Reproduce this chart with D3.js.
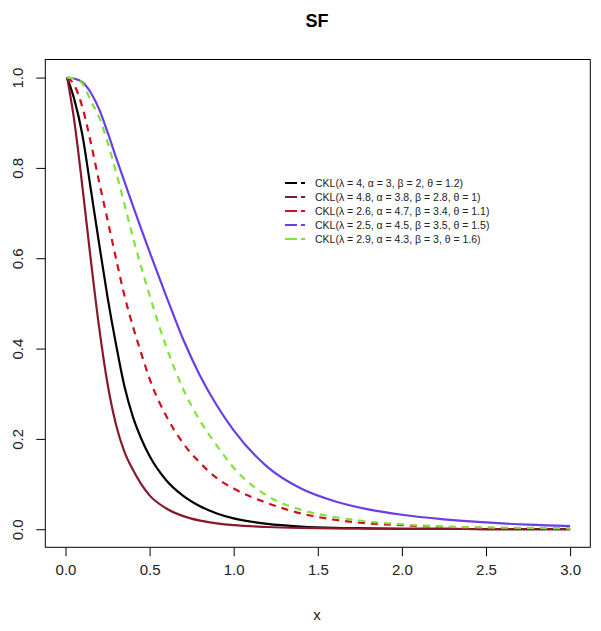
<!DOCTYPE html>
<html>
<head>
<meta charset="utf-8">
<script src="https://cdn.jsdelivr.net/npm/d3@7"></script>
<style>
  body { margin: 0; background: #fff; }
  svg { display: block; font-family: "Liberation Sans", Arial, sans-serif; }
</style>
</head>
<body>
<svg id="Vis" width="601" height="631"></svg>
<script>
var xs = [0.01, 0.05, 0.1, 0.15, 0.2, 0.25, 0.3, 0.35, 0.4, 0.45, 0.5, 0.6, 0.7, 0.8, 0.9, 1.0, 1.2, 1.4, 1.6, 1.8, 2.0, 2.25, 2.5, 2.75, 3.0];

var sfBlack  = [1, 0.955, 0.874, 0.754, 0.632, 0.514, 0.41, 0.317, 0.25, 0.201, 0.162, 0.108, 0.074, 0.051, 0.035, 0.024, 0.012, 0.006, 0.003, 0.002, 0.001, 0.0006, 0.0004, 0.0002, 0.0001];
var sfMaroon = [1, 0.91, 0.76, 0.598, 0.447, 0.322, 0.232, 0.172, 0.132, 0.1, 0.075, 0.046, 0.029, 0.019, 0.013, 0.009, 0.005, 0.003, 0.002, 0.0015, 0.001, 0.0006, 0.0004, 0.0002, 0.0001];
var sfRed    = [1, 0.985, 0.935, 0.857, 0.769, 0.685, 0.6, 0.518, 0.45, 0.39, 0.333, 0.25, 0.19, 0.147, 0.113, 0.09, 0.058, 0.035, 0.021, 0.013, 0.009, 0.005, 0.003, 0.002, 0.001];
var sfPurple = [1, 0.998, 0.99, 0.967, 0.93, 0.879, 0.824, 0.77, 0.717, 0.665, 0.614, 0.515, 0.42, 0.34, 0.274, 0.219, 0.138, 0.09, 0.062, 0.044, 0.032, 0.022, 0.015, 0.01, 0.007];
var sfGreen  = [1, 0.998, 0.987, 0.949, 0.912, 0.857, 0.792, 0.72, 0.648, 0.581, 0.518, 0.403, 0.31, 0.24, 0.185, 0.136, 0.074, 0.043, 0.027, 0.017, 0.011, 0.006, 0.004, 0.003, 0.002];

var seriesLabels = [
  "CKL(\u03bb = 4, \u03b1 = 3, \u03b2 = 2, \u03b8 = 1.2)",
  "CKL(\u03bb = 4.8, \u03b1 = 3.8, \u03b2 = 2.8, \u03b8 = 1)",
  "CKL(\u03bb = 2.6, \u03b1 = 4.7, \u03b2 = 3.4, \u03b8 = 1.1)",
  "CKL(\u03bb = 2.5, \u03b1 = 4.5, \u03b2 = 3.5, \u03b8 = 1.5)",
  "CKL(\u03bb = 2.9, \u03b1 = 4.3, \u03b2 = 3, \u03b8 = 1.6)"
];
var seriesColors = ["#000000", "#861a2c", "#d0101c", "#6a3ee6", "#7ee33c"];
var seriesDash = [null, null, "7,6", null, "7,6"];
var xTicks = [0, 0.5, 1, 1.5, 2, 2.5, 3];
var yTicks = [0, 0.2, 0.4, 0.6, 0.8, 1];

var allSeries = [sfBlack, sfMaroon, sfRed, sfPurple, sfGreen];

var svg = d3.select("#Vis");
var box = {left: 45.3, right: 590.3, top: 59.5, bottom: 547.3};

var x = d3.scaleLinear().domain([-0.12, 3.12]).range([box.left, box.right]);
var y = d3.scaleLinear().domain([-0.04, 1.04]).range([box.bottom, box.top]);

// curves
var line = d3.line()
    .x(function(d){ return x(d[0]); })
    .y(function(d){ return y(d[1]); })
    .curve(d3.curveMonotoneX);

allSeries.forEach(function(vals, i){
  svg.append("path")
     .datum(xs.map(function(v, j){ return [v, vals[j]]; }))
     .attr("fill", "none")
     .attr("stroke", seriesColors[i])
     .attr("stroke-width", 2.2)
     .attr("stroke-dasharray", seriesDash[i])
     .attr("d", line);
});

// box
svg.append("rect")
   .attr("x", box.left).attr("y", box.top)
   .attr("width", box.right - box.left)
   .attr("height", box.bottom - box.top)
   .attr("fill", "none").attr("stroke", "#000").attr("stroke-width", 1);

// x axis
var xAxis = d3.axisBottom(x).tickValues(xTicks).tickSizeOuter(0).tickSizeInner(9).tickPadding(8)
    .tickFormat(d3.format(".1f"));
var gx = svg.append("g").attr("transform", "translate(0," + box.bottom + ")").call(xAxis);
gx.select(".domain").remove();
gx.selectAll("text").attr("font-size", 15).attr("font-family", "Liberation Sans, Arial, sans-serif").attr("fill", "#222");

// y axis, labels rotated like R
var yAxis = d3.axisLeft(y).tickValues(yTicks).tickSizeOuter(0).tickSizeInner(9).tickFormat(d3.format(".1f"));
var gy = svg.append("g").attr("transform", "translate(" + box.left + ",0)").call(yAxis);
gy.select(".domain").remove();
gy.selectAll("text")
  .attr("x", null).attr("dy", null)
  .attr("text-anchor", "middle")
  .attr("font-size", 15)
  .attr("font-family", "Liberation Sans, Arial, sans-serif")
  .attr("fill", "#222")
  .attr("transform", "translate(-22.5,0) rotate(-90)");

// title and x label
svg.append("text").attr("x", 317).attr("y", 27).attr("text-anchor", "middle")
   .attr("font-size", 18).attr("font-weight", "bold").text("SF");
svg.append("text").attr("x", 317).attr("y", 620).attr("text-anchor", "middle")
   .attr("font-size", 15).attr("fill", "#222").text("x");

// legend
var legend = svg.append("g").attr("transform", "translate(285,183)");
seriesLabels.forEach(function(lab, i){
  var g = legend.append("g").attr("transform", "translate(0," + (i * 14) + ")");
  g.append("line").attr("x1", 0).attr("x2", 12).attr("y1", 0).attr("y2", 0)
   .attr("stroke", seriesColors[i]).attr("stroke-width", 2);
  g.append("line").attr("x1", 16).attr("x2", 20).attr("y1", 0).attr("y2", 0)
   .attr("stroke", seriesColors[i]).attr("stroke-width", 2);
  g.append("text").attr("x", 30).attr("y", 4).attr("font-size", 10.5).attr("fill", "#222").text(lab);
});
</script>
</body>
</html>
